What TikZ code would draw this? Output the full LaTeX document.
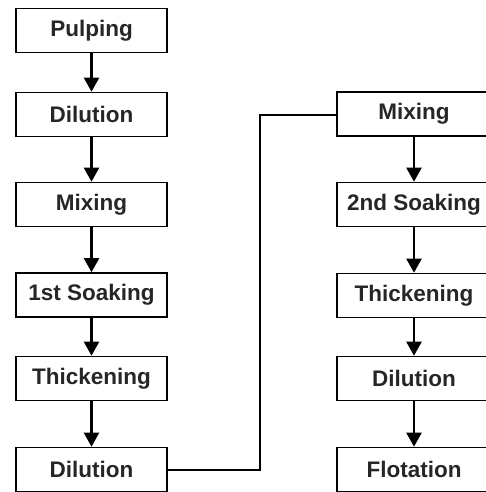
\documentclass[tikz,border=0pt]{standalone}
\usepackage{fontspec}
\setmainfont{Liberation Sans}
\usetikzlibrary{arrows.meta}
\begin{document}
\begin{tikzpicture}[x=1pt,y=-1pt,
  proc/.style={draw=black, line width=1.6pt, minimum width=151pt, minimum height=44pt, inner sep=0pt,
    font=\fontsize{22.5}{25}\selectfont\bfseries, text=black!85},
  flow/.style={line width=2.2pt, -{Triangle[width=15pt,length=14pt]}},
  link/.style={line width=1.8pt}]
\useasboundingbox (0,0) rectangle (486,492);
\clip (0,0) rectangle (486,492);
\node[proc] (p1) at (91.5,30.5) {Pulping};
\node[proc] (p2) at (91.5,114.5) {Dilution};
\node[proc] (p3) at (91.5,204.5) {Mixing};
\node[proc] (p4) at (91.5,295) {1st Soaking};
\node[proc] (p5) at (91.5,378.5) {Thickening};
\node[proc] (p6) at (91.5,469.5) {Dilution};
\node[proc, minimum width=154pt] (q1) at (414,114) {Mixing};
\node[proc, minimum width=154pt] (q2) at (414,204.5) {2nd Soaking};
\node[proc, minimum width=154pt] (q3) at (414,295.5) {Thickening};
\node[proc, minimum width=154pt] (q4) at (414,378.5) {Dilution};
\node[proc, minimum width=154pt] (q5) at (414,469.5) {Flotation};
\draw[flow] (p1) -- (p2);
\draw[flow] (p2) -- (p3);
\draw[flow] (p3) -- (p4);
\draw[flow] (p4) -- (p5);
\draw[flow] (p5) -- (p6);
\draw[flow] (q1) -- (q2);
\draw[flow] (q2) -- (q3);
\draw[flow] (q3) -- (q4);
\draw[flow] (q4) -- (q5);
\coordinate (c1) at (260,470);
\coordinate (c2) at (260,115);
\draw[link] (p6.east |- c1) -- (c1) -- (c2) -- (q1.west |- c2);
\end{tikzpicture}
\end{document}
